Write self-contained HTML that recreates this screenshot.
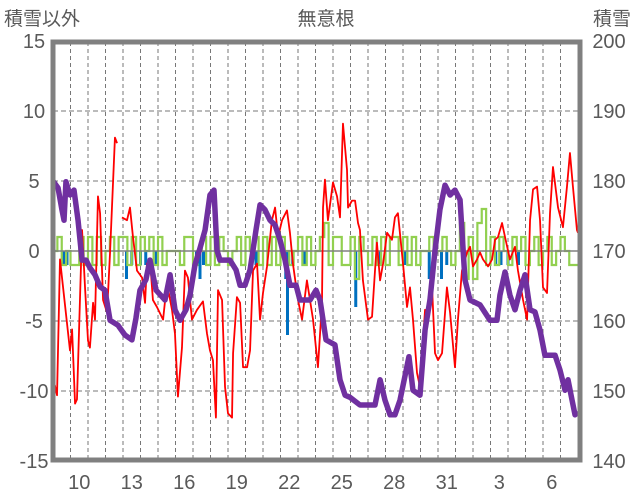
<!DOCTYPE html>
<html><head><meta charset="utf-8"><style>
html,body{margin:0;padding:0;background:#fff;}
svg{display:block;font-family:"Liberation Sans","Noto Sans CJK JP",sans-serif;}
</style></head><body>
<svg id="chart" width="636" height="501" viewBox="0 0 636 501" xmlns="http://www.w3.org/2000/svg">
<text x="4" y="25" font-size="19" fill="#595959">積雪以外</text>
<text x="326" y="25" font-size="19" fill="#595959" text-anchor="middle">無意根</text>
<text x="631" y="25" font-size="19" fill="#595959" text-anchor="end">積雪</text>
<g id="grid"></g>
<g id="series"></g>
<rect x="53" y="42" width="527" height="418" fill="none" stroke="#808080" stroke-width="5"/>
<g id="axes"></g>
</svg>
<script>
// ---- data ----
const leftTicks = [15,10,5,0,-5,-10,-15];
const rightTicks = [200,190,180,170,160,150,140];
const dayLabels = ["10","13","16","19","22","25","28","31","3","6"];
const dayLabelIndex = [1,4,7,10,13,16,19,22,25,28];
const snowT = [0,.29,.51,.63,.74,.97,1.2,1.43,1.66,1.89,2.11,2.4,2.69,2.97,3.26,3.71,4.11,4.51,4.74,4.97,5.31,5.54,5.89,6.4,6.69,6.97,7.26,7.6,7.83,8.11,8.4,8.69,8.97,9.2,9.37,9.54,10.11,10.46,10.69,10.97,11.26,11.6,11.83,12.11,12.4,12.69,12.97,13.26,13.54,13.89,14.11,14.69,15.03,15.26,15.6,16.11,16.4,16.69,16.97,17.54,18.4,18.69,18.97,19.26,19.54,19.83,20.34,20.57,20.97,21.26,21.54,21.83,22.11,22.4,22.69,22.97,23.26,23.54,23.83,24.4,24.97,25.37,25.54,25.83,26.11,26.4,26.69,26.97,27.26,27.54,27.83,28.11,28.69,28.97,29.26,29.43,29.66,29.83,30];
const snowV = [180,179,175.9,174.4,179.9,178,178.7,174.4,168.7,168.7,167.6,166.6,164.9,164.4,160.1,159.4,158,157.3,160.4,164.4,165.9,168.7,164.4,163,166.6,161.6,160.1,161.6,163.7,168,170.4,173,178,178.7,170.1,168.7,168.7,167.3,165.1,165.1,167.3,173,176.6,175.9,174.4,173.7,171.6,168.7,165.1,165.1,163,163,164.4,163,157.3,156.6,151.6,149.4,149.1,148,148,151.6,148.7,146.6,146.6,148.7,154.9,150.1,149.4,158.7,163,170.1,175.9,179.4,178,178.7,177.3,165.9,163,162.3,160.1,160.1,163.7,167,163.7,161.6,164.4,166.6,161.6,161.3,158.7,155.1,155.1,153,150.1,151.6,148.7,146.6,147];
const redT = [0,.11,.23,.4,.97,1.09,1.26,1.37,1.66,1.83,2,2.11,2.29,2.4,2.57,2.69,2.86,3.09,3.26,3.54,3.66,3.8,3.94,4.23,4.4,4.57,4.8,5.09,5.26,5.37,5.54,5.71,5.94,6.29,6.51,6.8,6.97,7.14,7.37,7.54,7.71,7.94,8.23,8.57,8.8,8.97,9.14,9.31,9.43,9.66,9.83,10,10.23,10.29,10.51,10.69,10.86,11.09,11.26,11.43,11.66,11.83,12,12.23,12.51,12.69,12.86,13.09,13.37,13.54,13.71,14,14.23,14.51,14.86,15.14,15.37,15.43,15.54,15.71,16,16.23,16.4,16.57,16.8,16.86,17.09,17.26,17.43,17.54,17.71,18,18.23,18.4,18.51,18.69,18.86,19.09,19.37,19.54,19.71,20,20.23,20.4,20.57,20.8,20.97,21.26,21.43,21.66,21.83,22,22.23,22.51,22.69,22.97,23.14,23.37,23.66,23.83,24,24.23,24.4,24.57,24.86,25.09,25.26,25.43,25.66,25.83,26.11,26.4,26.57,26.86,27.09,27.26,27.43,27.66,27.83,28,28.23,28.4,28.57,28.86,29.14,29.37,29.54,29.71,29.94,30];
const redV = [-10.3,-9.6,-10.3,-0.6,-7.1,-5.6,-10.9,-10.6,1.5,-2.6,-6.4,-6.9,-3.7,-4.9,3.9,2.7,-3.5,-4.4,-0.1,8.1,7.7,null,2.4,2.2,3.1,1.0,-1.4,-1.9,-3.7,-0.9,-0.6,-3.5,-4.0,-4.9,-2.3,-4.2,-5.9,-10.4,-6.9,-1.4,-1.9,-4.9,-4.2,-3.6,-5.9,-7.1,-7.8,-11.9,-2.8,-3.5,-9.7,-11.6,-11.9,-7.3,-3.3,-3.7,-8.3,-8.3,-7.1,-1.4,-0.9,-4.9,-3.0,-1.1,2.2,3.1,1.0,2.2,2.9,1.3,-0.9,-3.5,-4.9,-2.1,-4.9,-8.3,-3.7,3.1,5.1,2.2,4.9,3.9,2.4,9.1,5.8,3.1,3.6,3.6,2.0,1.5,-2.1,-4.9,-4.7,-1.4,0.6,-2.1,-0.9,1.3,0.8,2.4,2.7,-0.9,-4.0,-2.6,-4.9,-8.7,-9.7,-4.2,-4.7,-2.6,-7.3,-7.8,-7.3,-2.6,-4.4,-8.3,-4.9,-1.4,-0.1,0.3,-1.1,-0.6,-0.1,-0.6,-1.1,-0.6,0.8,1.0,2.0,1.0,-0.6,0.3,-1.4,-3.5,-4.9,2.2,4.4,4.6,2.2,-2.6,-3.0,2.7,6.0,3.1,1.7,4.6,7.0,4.6,1.5,1.3];
const greenV = [0,1,-1,0,-1,-1,1,-1,1,-1,1,-1,0,1,-1,1,1,-1,1,-1,1,0,1,-1,1,-1,0,0,0,-1,1,1,-1,0,1,-1,1,-1,1,0,-1,0,1,-1,1,0,1,-1,1,-1,1,-1,1,0,-1,0,1,-1,1,-1,0,1,2,-1,1,1,-1,-1,1,-2,1,0,-1,1,-1,1,-1,1,1,-1,1,-1,1,-1,0,0,1,0,0,1,0,-1,0,2,-2,1,-2,2,3,-1,1,-1,1,0,-1,1,0,1,-1,0,1,-1,0,1,-1,0,1,0,-1,-1];
const blueT = [0.6,0.8,4.2,4.5,5.0,5.3,5.9,8.2,8.4,8.6,11.6,13.3,13.4,13.7,14.4,17.3,18.7,20.1,21.5,22.2,22.5,25.3,25.6,26.0,26.6];
const blueV = [-1,-1,-2,-1,-1,-1,-1,-1,-2,-1,-1,-2,-6,-1,-1,-4,-1,-1,-2,-2,-1,-1,-1,-1,-1];

// ---- axes ----
const X0=53, DAYW=17.5, NDAYS=30;
const xS = t => X0 + t*DAYW;
const yL = v => 251 - 14*v;
const yR = s => 461 - 7*(s-140);
const NS="http://www.w3.org/2000/svg";
function mk(tag, parent, attrs){const e=document.createElementNS(NS,tag);for(const k in attrs)e.setAttribute(k,attrs[k]);parent.appendChild(e);return e;}
const grid=document.getElementById('grid'), ser=document.getElementById('series'), axes=document.getElementById('axes');

for(let d=1; d<NDAYS; d++){
  const l=mk('line',grid,{x1:xS(d),x2:xS(d),y1:42,y2:460,stroke:'#777','stroke-width':1,'stroke-dasharray':'4,3'});
  
  
}
leftTicks.forEach(v=>{
  if(v!==15 && v!==-15 && v!==0){
    const l=mk('line',grid,{x1:53,x2:580,y1:yL(v),y2:yL(v),stroke:'#777','stroke-width':1,'stroke-dasharray':'5,3'});
    
    
  }
  const t=mk('text',axes,{x:34,y:yL(v)+7,'font-size':20,fill:'#595959','text-anchor':'middle'});
  t.textContent=v;
  
  
});
rightTicks.forEach(s=>{
  const t=mk('text',axes,{x:609,y:yR(s)+7,'font-size':20,fill:'#595959','text-anchor':'middle'});
  t.textContent=s;
  
  
});
dayLabels.forEach((lab,i)=>{
  const t=mk('text',axes,{x:xS(dayLabelIndex[i]+0.5),y:489,'font-size':20,fill:'#595959','text-anchor':'middle'});
  t.textContent=lab;
  
  
});

// blue bars
blueT.forEach((t,i)=>{
  const y0=yL(0), y1=yL(blueV[i]);
  const r=mk('rect',ser,{x:xS(t)-1.5,y:Math.min(y0,y1),width:3,height:Math.abs(y1-y0),fill:'#0070c0'});
  
  
});
// green step series
(function(){
  const step=NDAYS/greenV.length; let d='';
  greenV.forEach((v,i)=>{const xa=xS(i*step), xb=xS((i+1)*step), y=yL(v); d+=(i?'L':'M')+xa+','+y+'L'+xb+','+y;});
  const p=mk('path',ser,{d:d,fill:'none',stroke:'#92d050','stroke-width':2.2});
  
  
})();
// zero line
(function(){
  const l=mk('line',ser,{x1:53,x2:580,y1:yL(0),y2:yL(0),stroke:'#808080','stroke-width':1.5});
  
  
})();
// red line
(function(){
  let d='', pen=false;
  redT.forEach((t,i)=>{const v=redV[i]; if(v===null){pen=false;return;} d+=(pen?'L':'M')+xS(t)+','+yL(v); pen=true;});
  const p=mk('path',ser,{d:d,fill:'none',stroke:'#ff0000','stroke-width':1.8,'stroke-linejoin':'round'});
  
  
})();
// purple snow line
(function(){
  let d='';
  snowT.forEach((t,i)=>{d+=(i?'L':'M')+xS(t)+','+yR(snowV[i]);});
  const p=mk('path',ser,{d:d,fill:'none',stroke:'#7030a0','stroke-width':5.5,'stroke-linejoin':'round'});
  
  
})();
</script>
</body></html>
